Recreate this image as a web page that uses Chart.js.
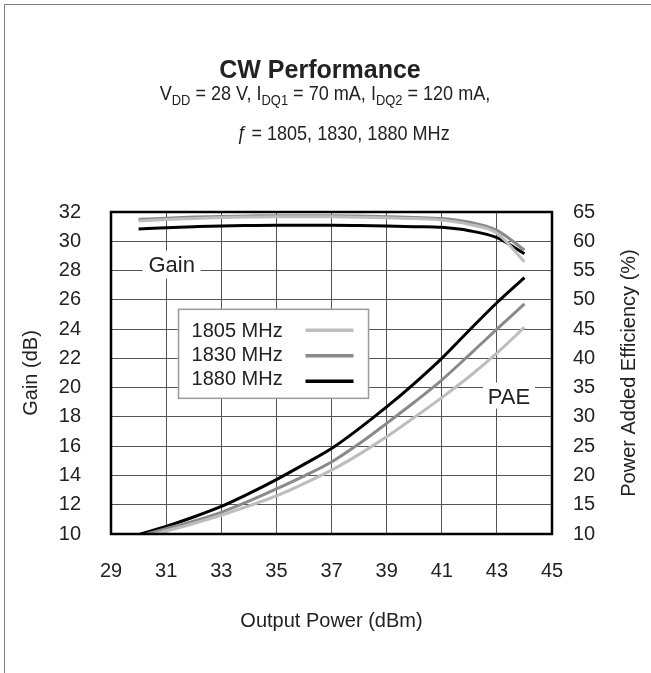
<!DOCTYPE html>
<html>
<head>
<meta charset="utf-8">
<script src="https://cdn.jsdelivr.net/npm/chart.js@4.4.1/dist/chart.umd.min.js"></script>
<style>
  html, body { margin: 0; padding: 0; background: #fff; }
  body { width: 651px; height: 673px; position: relative; overflow: hidden;
         font-family: "Liberation Sans", Arial, sans-serif; color: #222; }
  #frame { position: absolute; left: 4px; top: 4px; width: 700px; height: 700px;
           border-top: 1px solid #808080; border-left: 1px solid #808080; }
  #chart { position: absolute; left: 0; top: 0; }
  .tl { position: absolute; left: 0; text-align: center; white-space: nowrap; }
  .t1 { top: 54px; font-size: 25px; font-weight: bold; line-height: 30px; width: 640px; }
  .t2 { top: 81px; font-size: 21px; line-height: 24px; width: 650px; transform: scaleX(0.86); }
  .t3 { top: 121px; font-size: 21px; line-height: 24px; width: 686px; transform: scaleX(0.86); }
  .tl sub { font-size: 15px; vertical-align: -5px; line-height: 0; }
</style>
</head>
<body>
<div id="frame"></div>
<canvas id="chart" width="651" height="673"></canvas>
<div class="tl t1">CW Performance</div>
<div class="tl t2">V<sub>DD</sub> = 28 V, I<sub>DQ1</sub> = 70 mA, I<sub>DQ2</sub> = 120 mA,</div>
<div class="tl t3"><i>ƒ</i> = 1805, 1830, 1880 MHz</div>
<script>
// ---------- data ----------
const freqLabels = ['1805 MHz', '1830 MHz', '1880 MHz'];
const lineColors = ['#bdbdbd', '#8a8a8a', '#000000'];

// gain (dB) vs output power (dBm)
const gainPout = [30, 31, 32, 33, 34, 35, 36, 37, 38, 39, 40, 41, 42, 43, 44];
const gain1805 = [31.39, 31.48, 31.56, 31.62, 31.66, 31.68, 31.68, 31.67, 31.64, 31.6, 31.55, 31.45, 31.15, 30.55, 28.6];
const gain1830 = [31.5, 31.58, 31.65, 31.7, 31.73, 31.75, 31.75, 31.74, 31.72, 31.68, 31.63, 31.55, 31.3, 30.75, 29.4];
const gain1880 = [30.84, 30.92, 30.99, 31.05, 31.08, 31.1, 31.1, 31.1, 31.08, 31.05, 31.0, 30.95, 30.72, 30.25, 29.15];

// power added efficiency (%) vs output power (dBm)
const paePout1805 = [30.6, 31, 32, 33, 34, 35, 36, 37, 38, 39, 40, 41, 42, 43, 44];
const pae1805 = [10.0, 10.5, 11.8, 13.2, 14.8, 16.5, 18.6, 20.9, 23.6, 26.6, 29.9, 33.3, 36.9, 40.9, 45.3];
const paePout1830 = [30.3, 31, 32, 33, 34, 35, 36, 37, 38, 39, 40, 41, 42, 43, 44];
const pae1830 = [10.0, 10.9, 12.2, 13.7, 15.6, 17.7, 19.9, 22.3, 25.4, 28.9, 32.5, 36.3, 40.6, 45.0, 49.3];
const paePout1880 = [30.0, 31, 32, 33, 34, 35, 36, 37, 38, 39, 40, 41, 42, 43, 44];
const pae1880 = [9.9, 11.3, 12.9, 14.7, 16.9, 19.3, 21.9, 24.6, 28.0, 31.7, 35.7, 40.0, 44.8, 49.5, 53.8];

// axis ranges / tick labels
const xTicks = [29, 31, 33, 35, 37, 39, 41, 43, 45];
const gainTicks = [10, 12, 14, 16, 18, 20, 22, 24, 26, 28, 30, 32];
const paeTicks = [10, 15, 20, 25, 30, 35, 40, 45, 50, 55, 60, 65];

const FONT_FAMILY = '"Liberation Sans", Arial, sans-serif';
const TICK_FONT = { family: FONT_FAMILY, size: 20 };

function toPoints(xs, ys) {
    return xs.map((x, i) => ({ x: x, y: ys[i] }));
}

function lineSet(label, xs, ys, color, axis) {
    return {
        label: label,
        data: toPoints(xs, ys),
        borderColor: color,
        backgroundColor: color,
        borderWidth: 3,
        pointRadius: 0,
        cubicInterpolationMode: 'monotone',
        yAxisID: axis
    };
}

/* ==============================
   labels, legend box, frame
================================ */
const decorPlugin = {
    id: 'decor',
    beforeDatasetsDraw(chart) {
        const { ctx, scales } = chart;
        const x = scales.x, y = scales.y;
        ctx.save();
        ctx.font = '22px ' + FONT_FAMILY;
        ctx.textAlign = 'center';
        ctx.textBaseline = 'alphabetic';

        // "Gain" label sitting on the 28 dB line
        let cx = x.getPixelForValue(31.2), cy = y.getPixelForValue(28);
        ctx.fillStyle = '#fff';
        ctx.fillRect(cx - 29, cy - 20, 58, 28);
        ctx.fillStyle = '#222';
        ctx.fillText('Gain', cx, cy + 1);

        // "PAE" label just below the 20 dB line
        cx = x.getPixelForValue(43.44); cy = y.getPixelForValue(20);
        ctx.fillStyle = '#fff';
        ctx.fillRect(cx - 26, cy - 5, 52, 26);
        ctx.fillStyle = '#222';
        ctx.fillText('PAE', cx, cy + 16);

        // legend box
        const bx = x.getPixelForValue(31.45), by = y.getPixelForValue(25.35);
        const bw = 190, bh = 89;
        ctx.fillStyle = '#fff';
        ctx.fillRect(bx, by, bw, bh);
        ctx.strokeStyle = '#9a9a9a';
        ctx.lineWidth = 1.5;
        ctx.strokeRect(bx, by, bw, bh);
        ctx.font = '20px ' + FONT_FAMILY;
        ctx.textAlign = 'left';
        ctx.textBaseline = 'middle';
        freqLabels.forEach((lab, i) => {
            const ry = by + 22 + i * 24;
            ctx.fillStyle = '#222';
            ctx.fillText(lab, bx + 13, ry);
            ctx.strokeStyle = lineColors[i];
            ctx.lineWidth = 3.5;
            ctx.beginPath();
            ctx.moveTo(bx + 127, ry - 1 + i * 1.5);
            ctx.lineTo(bx + 175, ry - 1 + i * 1.5);
            ctx.stroke();
        });
        ctx.restore();
    },
    afterDatasetsDraw(chart) {
        const { ctx, chartArea: a } = chart;
        ctx.save();
        ctx.strokeStyle = '#000';
        ctx.lineWidth = 2.5;
        ctx.strokeRect(a.left, a.top, a.right - a.left, a.bottom - a.top);

        // right axis title reads bottom-to-top
        ctx.translate(629, (a.top + a.bottom) / 2);
        ctx.rotate(-Math.PI / 2);
        ctx.font = '20px ' + FONT_FAMILY;
        ctx.fillStyle = '#222';
        ctx.textAlign = 'center';
        ctx.textBaseline = 'middle';
        ctx.fillText('Power Added Efficiency (%)', 0, 0);
        ctx.restore();
    }
};

const datasets = [
    lineSet(freqLabels[0], gainPout, gain1805, lineColors[0], 'y'),
    lineSet(freqLabels[1], gainPout, gain1830, lineColors[1], 'y'),
    lineSet(freqLabels[2], gainPout, gain1880, lineColors[2], 'y'),
    lineSet(freqLabels[0], paePout1805, pae1805, lineColors[0], 'y1'),
    lineSet(freqLabels[1], paePout1830, pae1830, lineColors[1], 'y1'),
    lineSet(freqLabels[2], paePout1880, pae1880, lineColors[2], 'y1')
];

new Chart(document.getElementById('chart'), {
    type: 'line',
    data: { datasets: datasets },
    plugins: [decorPlugin],
    options: {
        responsive: false,
        animation: false,
        layout: { padding: { top: 212, left: 0, right: 0, bottom: 0 } },
        plugins: { legend: { display: false }, tooltip: { enabled: false } },
        scales: {
            x: {
                type: 'linear',
                min: xTicks[0],
                max: xTicks[xTicks.length - 1],
                afterBuildTicks: s => { s.ticks = xTicks.map(v => ({ value: v })); },
                afterFit: s => { s.height = 139; },
                ticks: { font: TICK_FONT, color: '#222', padding: 25, maxRotation: 0 },
                grid: { color: '#555', lineWidth: 1, drawTicks: false },
                border: { display: false },
                title: { display: true, text: 'Output Power (dBm)', color: '#222',
                         font: TICK_FONT, padding: { top: 0, bottom: 40 } }
            },
            y: {
                position: 'left',
                min: gainTicks[0],
                max: gainTicks[gainTicks.length - 1],
                afterBuildTicks: s => { s.ticks = gainTicks.map(v => ({ value: v })); },
                afterFit: s => { s.width = 111; },
                ticks: { font: TICK_FONT, color: '#222', padding: 30 },
                grid: { color: '#555', lineWidth: 1, drawTicks: false },
                border: { display: false },
                title: { display: true, text: 'Gain (dB)', color: '#222',
                         font: TICK_FONT, padding: { top: 19, bottom: 0 } }
            },
            y1: {
                position: 'right',
                min: paeTicks[0],
                max: paeTicks[paeTicks.length - 1],
                afterBuildTicks: s => { s.ticks = paeTicks.map(v => ({ value: v })); },
                afterFit: s => { s.width = 99; },
                ticks: { font: TICK_FONT, color: '#222', padding: 21 },
                grid: { display: false, drawTicks: false },
                border: { display: false },
                title: { display: false }
            }
        }
    }
});
</script>
</body>
</html>
